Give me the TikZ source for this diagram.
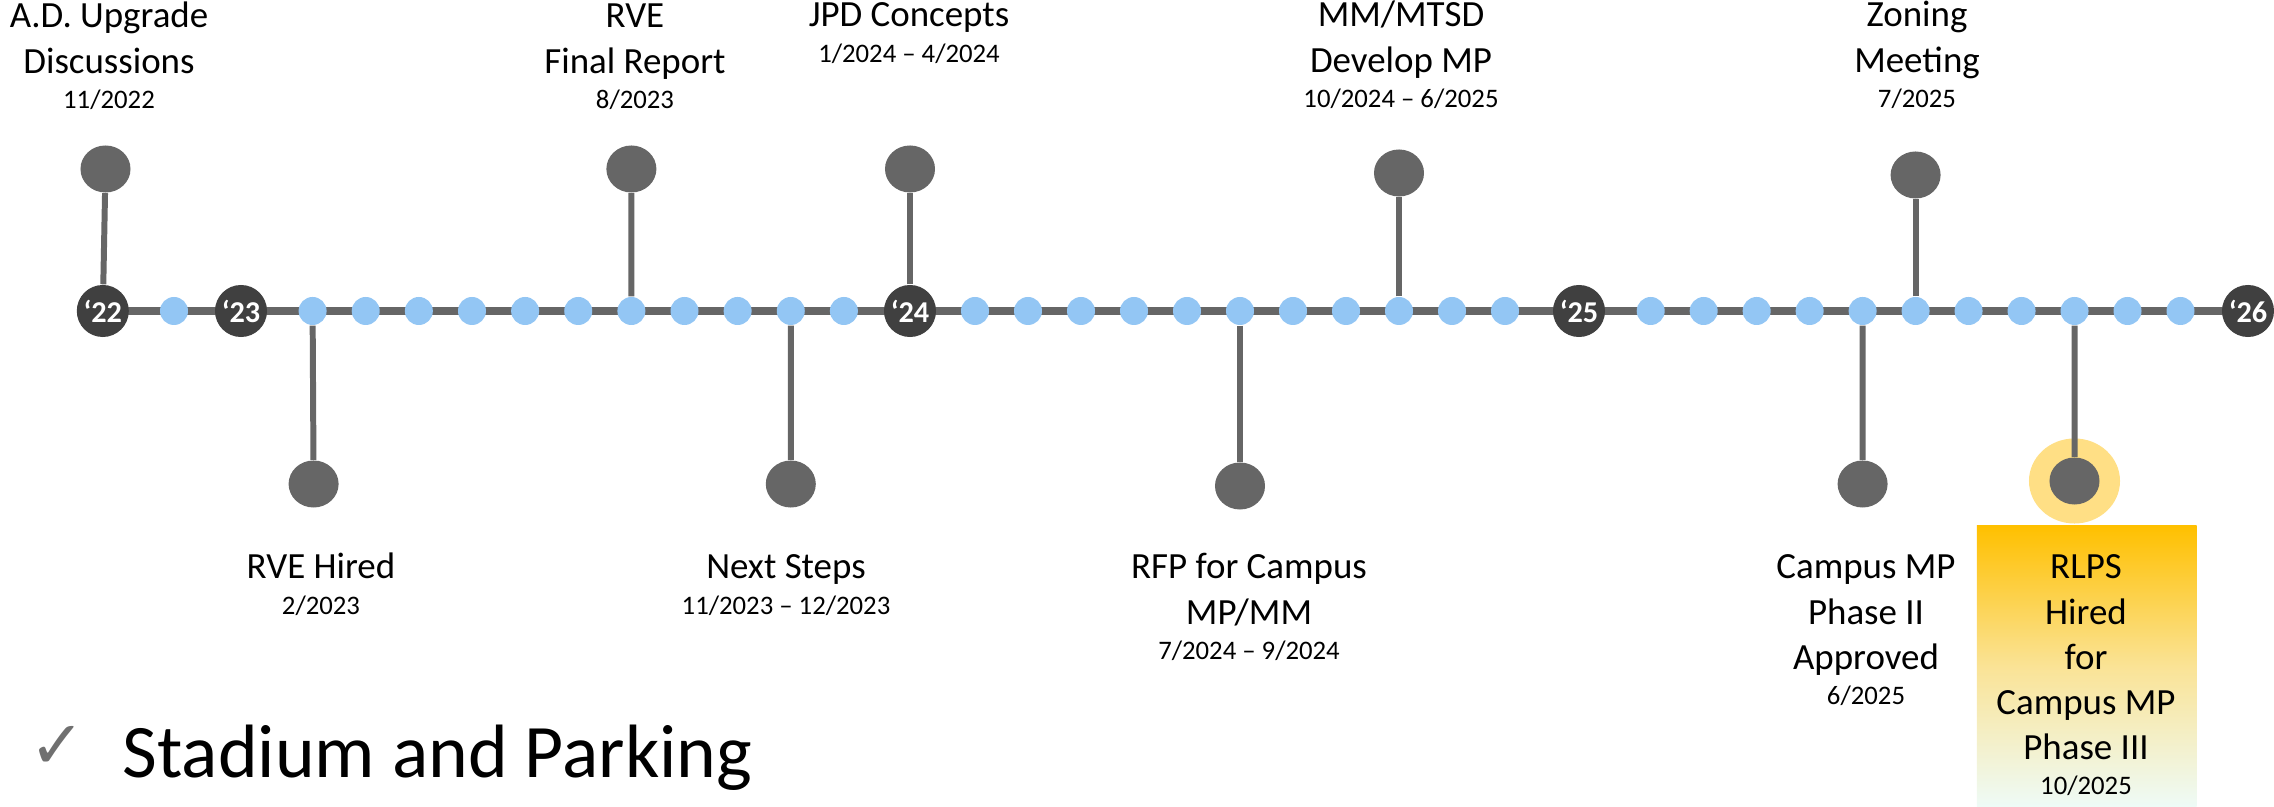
\documentclass[tikz,border=0pt]{standalone}
\usepackage{fontspec}
\setmainfont{Carlito}
\newfontfamily\symfont{DejaVu Sans}
\usetikzlibrary{shapes.geometric,backgrounds}

\definecolor{linegray}{HTML}{666666}
\definecolor{yeardark}{HTML}{404040}
\definecolor{dotblue}{HTML}{93C6F4}
\definecolor{glowyel}{HTML}{FFDF85}
\definecolor{boxtop}{HTML}{FFC000}
\definecolor{boxmid}{HTML}{FAE396}
\definecolor{boxbot}{HTML}{EEFBF7}
\definecolor{checkgray}{HTML}{707070}

\newcommand{\lblfont}{\fontsize{10.5}{12.8}\selectfont}
\newcommand{\datefont}{\fontsize{7.6}{9}\selectfont}
\newcommand{\evlabel}[2]{\lblfont\begin{tabular}[t]{@{}c@{}}#1\\[-2.8pt]\datefont #2\end{tabular}}

\tikzset{
  yearnode/.style={circle, fill=yeardark, minimum size=0.52cm, inner sep=0pt,
    text=white, font=\fontsize{8.6}{10}\selectfont\bfseries},
  dotnode/.style={circle, fill=dotblue, minimum size=0.28cm, inner sep=0pt},
  pinnode/.style={ellipse, fill=linegray, minimum width=0.50cm, minimum height=0.47cm, inner sep=0pt},
  stemline/.style={draw=linegray, line width=1.7pt},
  axisline/.style={draw=linegray, line width=2pt},
  evtext/.style={anchor=base, inner sep=0pt},
}

\begin{document}
\begin{tikzpicture}[x=0.01cm, y=-0.01cm]
\useasboundingbox (0,0) rectangle (2274,807);

% year markers
\node[yearnode] (y22) at (102.8,311) {‘22};
\node[yearnode] (y23) at (241,311) {‘23};
\node[yearnode] (y24) at (910,311) {‘24};
\node[yearnode] (y25) at (1579,311) {‘25};
\node[yearnode] (y26) at (2248,311) {‘26};

% month dots
\node[dotnode] (d0) at (174,311) {};
\foreach \i in {0,...,10} {
  \node[dotnode] (a\i) at ({312.6+53.13*\i},311) {};
  \node[dotnode] (b\i) at ({975+53*\i},311) {};
  \node[dotnode] (c\i) at ({1650.7+52.98*\i},311) {};
}

% pins
\node[pinnode] (pAD) at (105.5,169) {};
\node[pinnode] (pRVEH) at (313.6,484) {};
\node[pinnode] (pRVEF) at (631.4,169) {};
\node[pinnode] (pNext) at (790.8,484) {};
\node[pinnode] (pJPD) at (910,169) {};
\node[pinnode] (pRFP) at (1240,486) {};
\node[pinnode] (pMM) at (1399,173) {};
\node[pinnode] (pZon) at (1915.6,175) {};
\node[pinnode] (pCMP) at (1862.6,484) {};
\node[pinnode] (pRLPS) at (2074.5,481) {};

\begin{pgfonlayer}{background}
  \node[ellipse, fill=glowyel, minimum width=0.91cm, minimum height=0.85cm, inner sep=0pt] (glow) at (2074.5,481) {};
  \draw[axisline] (y22.center) -- (y26.center);
  \draw[stemline] (y22) -- (pAD);
  \draw[stemline] (a0) -- (pRVEH);
  \draw[stemline] (a6) -- (pRVEF);
  \draw[stemline] (a9) -- (pNext);
  \draw[stemline] (y24) -- (pJPD);
  \draw[stemline] (b5) -- (pRFP);
  \draw[stemline] (b8) -- (pMM);
  \draw[stemline] (c5) -- (pZon);
  \draw[stemline] (c4) -- (pCMP);
  \draw[stemline] (c8) -- (pRLPS);
\end{pgfonlayer}

% highlighted box
\node[rectangle, inner sep=0pt, minimum width=2.195cm, minimum height=2.81cm,
  top color=boxtop, bottom color=boxbot, middle color=boxmid] (rlpsbox) at (2086.75,666.5) {};

% labels above
\node[evtext] (lAD) at (109,28) {\evlabel{A.D. Upgrade\\Discussions}{11/2022}};
\node[evtext] (lRVEF) at (635,28) {\evlabel{RVE\\Final Report}{8/2023}};
\node[evtext] (lJPD) at (909,27) {\evlabel{JPD Concepts}{1/2024 – 4/2024}};
\node[evtext] (lMM) at (1401,27) {\evlabel{MM/MTSD\\Develop MP}{10/2024 – 6/2025}};
\node[evtext] (lZon) at (1917,27) {\evlabel{Zoning\\Meeting}{7/2025}};

% labels below
\node[evtext] (lRVEH) at (321,579) {\evlabel{RVE Hired}{2/2023}};
\node[evtext] (lNext) at (786,579) {\evlabel{Next Steps}{11/2023 – 12/2023}};
\node[evtext] (lRFP) at (1249,579) {\evlabel{RFP for Campus\\MP/MM}{7/2024 – 9/2024}};
\node[evtext] (lCMP) at (1866,579) {\evlabel{Campus MP\\Phase II\\Approved}{6/2025}};
\node[evtext] (lRLPS) at (2086,579) {\evlabel{RLPS\\Hired\\for\\Campus MP\\Phase III}{10/2025}};

% bullet line
\node[anchor=base west, inner sep=0pt, text=checkgray, font=\symfont\fontsize{19}{21}\selectfont] (chk) at (29,769) {✓};
\node[anchor=base west, inner sep=0pt, font=\fontsize{21.5}{25}\selectfont] (title) at (122,778) {Stadium and Parking};
\end{tikzpicture}
\end{document}
